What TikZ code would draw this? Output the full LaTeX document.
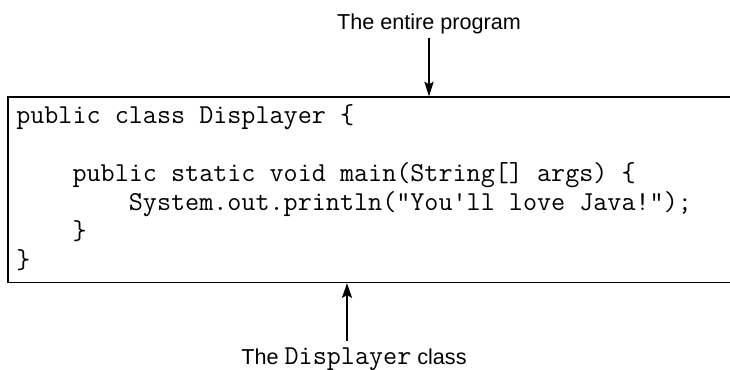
\documentclass[tikz,border=0pt]{standalone}
\usepackage{fontspec}
\setmainfont{Liberation Sans}
\usetikzlibrary{arrows.meta}
\newcommand\ind{\hphantom{0000}}
\newcommand\codesize{\fontsize{20.5}{21.75}\selectfont}

\begin{document}
\begin{tikzpicture}[
  x=0.75pt, y=-0.75pt,
  caption/.style={font=\fontsize{16.2}{19}\selectfont, inner sep=0pt},
  progbox/.style={draw, line width=1pt, minimum width=631.5pt,
    minimum height=139.1pt, inner sep=0pt},
  code/.style={font=\ttfamily\codesize,
    align=left, inner sep=0pt, anchor=base west},
  downarrow/.style={-{Stealth[length=11pt, width=7pt, inset=2pt]}, line width=0.8pt},
  uparrow/.style={-{Stealth[length=11pt, width=7.5pt, inset=2pt]}, line width=1.5pt}
]
\useasboundingbox (0,0) rectangle (730,370);

% The box (its right side runs off the page)
\node[progbox] (prog) at (429,189.75) {};

% Source code (base anchor sits on the last line)
\node[code] (src) at (16,268) {public class Displayer \{\\
\mbox{}\\
\ind public static void main(String[] args) \{\\
\ind\ind System.out.println("You'll love Java!");\\
\ind \}\\
\}};

% Captions
\node[caption, anchor=base] (entire) at (429,29.3) {The entire program};
\node[caption, anchor=base] (cls) at (354,364) {The {\ttfamily\codesize Displayer} class};

% Arrows
\draw[downarrow, shorten <=3pt] (entire.south) -- (prog.north);
\coordinate (tail) at ([xshift=-5.25pt, yshift=4.5pt]cls.north);
\draw[uparrow] (tail) -- (tail |- prog.south);
\end{tikzpicture}
\end{document}
